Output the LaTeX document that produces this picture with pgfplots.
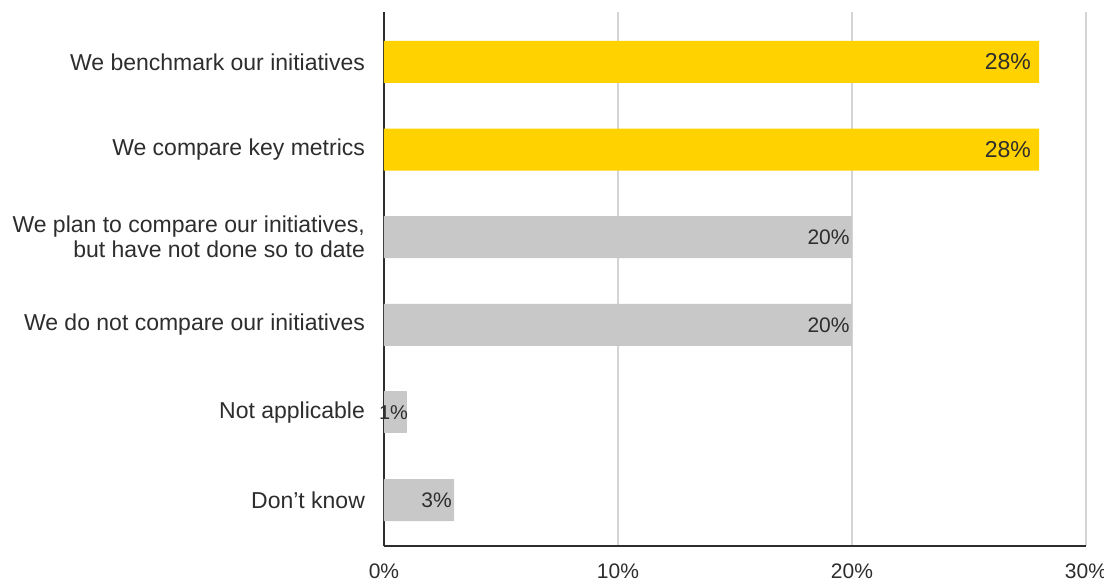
\documentclass[border=0pt]{standalone}
\usepackage{pgfplots}
\pgfplotsset{compat=1.18}
\usepackage{fontspec}
\setmainfont{Liberation Sans}
\definecolor{eyyellow}{RGB}{255,210,0}
\definecolor{eygrey}{RGB}{200,200,200}
\definecolor{gridgrey}{RGB}{212,212,212}
\definecolor{txt}{RGB}{45,45,45}
\begin{document}
\begin{tikzpicture}
\begin{axis}[
  scale only axis, width=351pt, height=267pt,
  xbar, xmin=0, xmax=30, ymin=-0.57, ymax=5.525, y dir=reverse,
  bar width=21pt,
  xtick={0,10,20,30},
  xticklabel={\pgfmathprintnumber{\tick}\%},
  /pgf/number format/assume math mode=true,
  xmajorgrids, grid style={color=gridgrey, line width=1pt},
  axis x line*=bottom, axis y line*=left,
  axis line style={txt, line width=1pt, -},
  major tick length=0pt,
  ytick={0,1,2,3,4,5},
  yticklabels={We benchmark our initiatives, We compare key metrics, {We plan to compare our initiatives,\\but have not done so to date}, We do not compare our initiatives, Not applicable, Don’t know},
  yticklabel style={align=right, font=\fontsize{11.5}{12.5}\selectfont, text=txt, xshift=-6pt},
  xticklabel style={font=\fontsize{10.5}{12}\selectfont, text=txt, yshift=-5.5pt},
  point meta=x,
  nodes near coords={\pgfmathprintnumber{\pgfplotspointmeta}\%},
  every node near coord/.append style={anchor=east, text=txt, inner sep=0pt},
]
\addplot[fill=eyyellow, draw=none, bar shift=0pt,
  every node near coord/.append style={xshift=-4pt, font=\fontsize{11.5}{12}\selectfont}]
  coordinates {(28,0) (28,1)};
\addplot[fill=eygrey, draw=none, bar shift=0pt,
  every node near coord/.append style={xshift=-1pt, font=\fontsize{10.5}{12}\selectfont}]
  coordinates {(20,2) (20,3) (3,5)};
\addplot[fill=eygrey, draw=none, bar shift=0pt,
  every node near coord/.append style={xshift=0.5pt, font=\fontsize{10}{12}\selectfont}]
  coordinates {(1,4)};
\end{axis}
\pgfresetboundingbox
\path ([xshift=-192pt, yshift=6pt]current axis.north west) rectangle ([xshift=9pt, yshift=-18pt]current axis.south east);
\end{tikzpicture}
\end{document}
